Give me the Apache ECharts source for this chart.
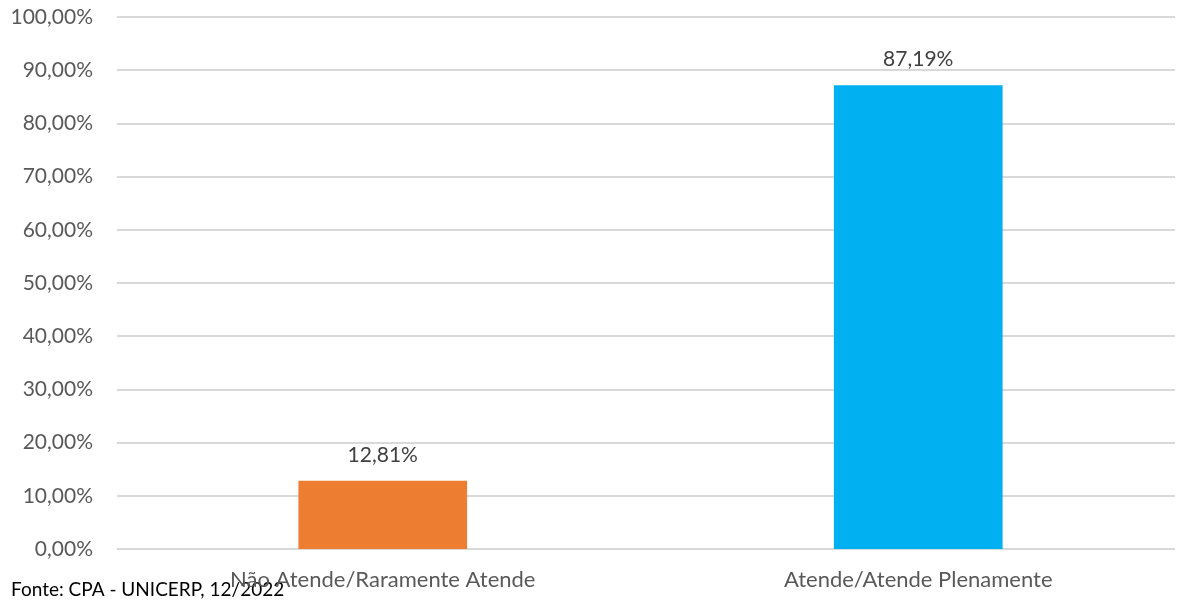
<!DOCTYPE html>
<html><head><meta charset="utf-8">
<script src="https://cdn.jsdelivr.net/npm/echarts@6/dist/echarts.min.js"></script>
<style>html,body{margin:0;padding:0;background:#fff}#c{width:1186px;height:604px}</style>
</head><body><div id="c"></div>
<script>
const categories = ["Não Atende/Raramente Atende", "Atende/Atende Plenamente"];
const values = [12.81, 87.19];
const colors = ["#ED7D31", "#00B0F0"];
const sourceText = "Fonte: CPA - UNICERP, 12/2022";

const fmt = v => v.toFixed(2).replace('.', ',') + '%';
const FONT = 'Lato';
const chart = echarts.init(document.getElementById('c'));
chart.setOption({
  animation: false,
  textStyle: {fontFamily: FONT},
  grid: [
    {left: 117, right: 11, top: 17, bottom: 55},
    {left: 115, right: -3, top: 17, bottom: 55}
  ],
  xAxis: [
    {gridIndex: 0, type: 'category', data: categories, show: false},
    {
      gridIndex: 1, type: 'category', data: categories,
      axisLine: {show: false}, axisTick: {show: false},
      axisLabel: {color: '#595959', fontSize: 22, fontFamily: FONT, margin: 20}
    }
  ],
  yAxis: [
    {
      gridIndex: 0, type: 'value', min: 0, max: 100, interval: 10,
      axisLine: {show: false}, axisTick: {show: false},
      splitLine: {lineStyle: {color: '#D9D9D9', width: 2}},
      axisLabel: {color: '#595959', fontSize: 21, fontFamily: FONT, margin: 24, formatter: v => fmt(v)}
    },
    {gridIndex: 1, type: 'value', min: 0, max: 100, interval: 10, show: false, splitLine: {show: false}}
  ],
  series: [{
    type: 'bar', xAxisIndex: 1, yAxisIndex: 1, barWidth: '31.5%',
    data: values.map((v, i) => ({value: v, itemStyle: {color: colors[i]}})),
    label: {show: true, position: 'top', distance: 15, color: '#404040', fontSize: 21, fontFamily: FONT, formatter: p => fmt(p.value)}
  }],
  graphic: [{
    type: 'text', left: 11, top: 580,
    style: {text: sourceText, fill: '#000', fontSize: 19, fontFamily: FONT}
  }]
});
</script></body></html>
